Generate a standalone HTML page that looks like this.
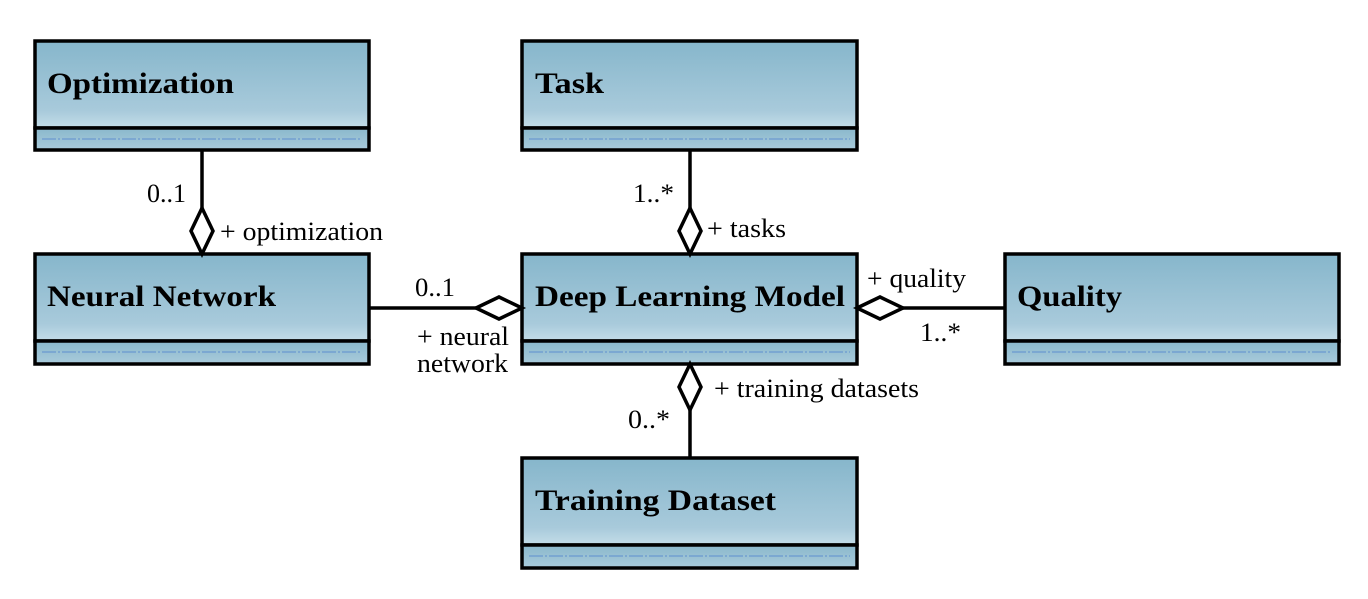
<!DOCTYPE html>
<html><head><style>
html,body{margin:0;padding:0;background:#fff;}
svg text{font-family:"Liberation Serif",serif;}
</style></head><body>
<svg width="1368" height="594" viewBox="0 0 1368 594" xmlns="http://www.w3.org/2000/svg">
<defs>
<linearGradient id="g" x1="0" y1="0" x2="0" y2="1">
<stop offset="0" stop-color="#86b6cb"/>
<stop offset="0.8" stop-color="#a8cadb"/>
<stop offset="1" stop-color="#c4dde8"/>
</linearGradient>
<linearGradient id="g2" x1="0" y1="0" x2="0" y2="1">
<stop offset="0" stop-color="#8ab8cc"/>
<stop offset="1" stop-color="#a9cbdb"/>
</linearGradient>
</defs>
<g stroke="#000" stroke-width="3.5">
<g>
<rect x="35" y="41" width="334" height="87" fill="url(#g)"/>
<rect x="35" y="128" width="334" height="22" fill="url(#g2)"/>
<rect x="522" y="41" width="335" height="87" fill="url(#g)"/>
<rect x="522" y="128" width="335" height="22" fill="url(#g2)"/>
<rect x="35" y="254" width="334" height="87" fill="url(#g)"/>
<rect x="35" y="341" width="334" height="23" fill="url(#g2)"/>
<rect x="522" y="254" width="335" height="87" fill="url(#g)"/>
<rect x="522" y="341" width="335" height="23" fill="url(#g2)"/>
<rect x="1005" y="254" width="334" height="87" fill="url(#g)"/>
<rect x="1005" y="341" width="334" height="23" fill="url(#g2)"/>
<rect x="522" y="458" width="335" height="87" fill="url(#g)"/>
<rect x="522" y="545" width="335" height="23" fill="url(#g2)"/>
</g>
<line x1="202" y1="150" x2="202" y2="208"/>
<polygon points="202,208 213,231 202,254 191,231" fill="#fff"/>
<line x1="690" y1="150" x2="690" y2="208"/>
<polygon points="690,208 701,231 690,254 679,231" fill="#fff"/>
<line x1="369" y1="308" x2="476" y2="308"/>
<polygon points="476,308 499,297 522,308 499,319" fill="#fff"/>
<line x1="903" y1="308" x2="1005" y2="308"/>
<polygon points="857,308 880,297 903,308 880,319" fill="#fff"/>
<line x1="690" y1="410" x2="690" y2="458"/>
<polygon points="690,364 701,387 690,410 679,387" fill="#fff"/>
</g>
<g stroke="#5f8fcf" stroke-width="1" stroke-dasharray="14,2,2,2">
<line x1="42" y1="139" x2="362" y2="139"/>
<line x1="529" y1="139" x2="850" y2="139"/>
<line x1="42" y1="352" x2="362" y2="352"/>
<line x1="529" y1="352" x2="850" y2="352"/>
<line x1="1012" y1="352" x2="1332" y2="352"/>
<line x1="529" y1="556" x2="850" y2="556"/>
</g>
<g font-weight="bold" font-size="30" fill="#000" lengthAdjust="spacingAndGlyphs">
<text x="47" y="93" textLength="187" lengthAdjust="spacingAndGlyphs">Optimization</text>
<text x="535" y="93" textLength="69" lengthAdjust="spacingAndGlyphs">Task</text>
<text x="47" y="306" textLength="229" lengthAdjust="spacingAndGlyphs">Neural Network</text>
<text x="535" y="306" textLength="310" lengthAdjust="spacingAndGlyphs">Deep Learning Model</text>
<text x="1017" y="306" textLength="105" lengthAdjust="spacingAndGlyphs">Quality</text>
<text x="535" y="510" textLength="241" lengthAdjust="spacingAndGlyphs">Training Dataset</text>
</g>
<g font-size="26" fill="#000">
<text x="147" y="202" textLength="39" lengthAdjust="spacingAndGlyphs">0..1</text>
<text x="220" y="240" textLength="163" lengthAdjust="spacingAndGlyphs">+ optimization</text>
<text x="633" y="202" textLength="41" lengthAdjust="spacingAndGlyphs">1..*</text>
<text x="707" y="237" textLength="79" lengthAdjust="spacingAndGlyphs">+ tasks</text>
<text x="415" y="296" textLength="40" lengthAdjust="spacingAndGlyphs">0..1</text>
<text x="417" y="345" textLength="92" lengthAdjust="spacingAndGlyphs">+ neural</text>
<text x="417" y="372" textLength="91" lengthAdjust="spacingAndGlyphs">network</text>
<text x="867" y="287" textLength="99" lengthAdjust="spacingAndGlyphs">+ quality</text>
<text x="920" y="341" textLength="41" lengthAdjust="spacingAndGlyphs">1..*</text>
<text x="714" y="397" textLength="205" lengthAdjust="spacingAndGlyphs">+ training datasets</text>
<text x="628" y="428" textLength="42" lengthAdjust="spacingAndGlyphs">0..*</text>
</g>
</svg>
</body></html>
